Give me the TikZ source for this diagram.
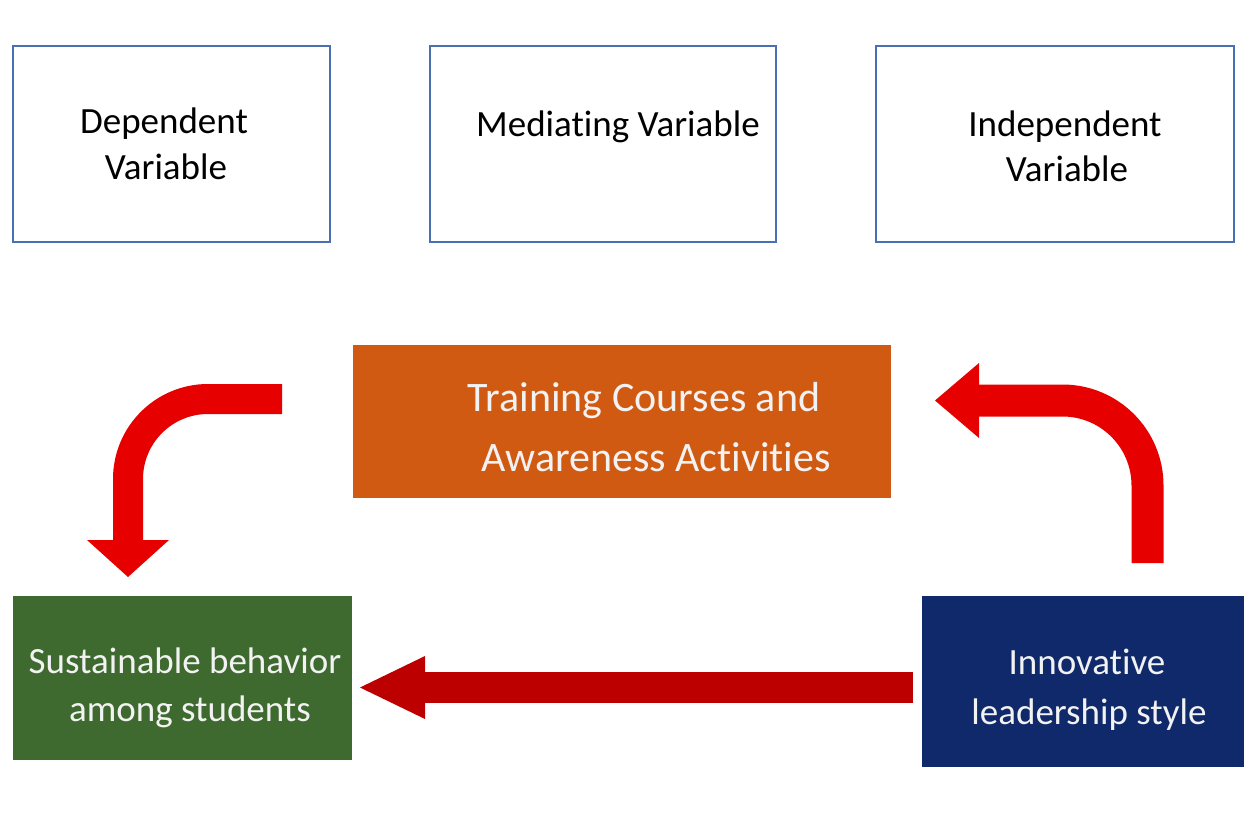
\documentclass[tikz,border=0pt]{standalone}
\usepackage{fontspec}
\setmainfont{Carlito}[RawFeature={-liga;-clig;-calt;-dlig}]
\definecolor{boxblue}{HTML}{4A6FB5}
\definecolor{medorange}{HTML}{D05A12}
\definecolor{depgreen}{HTML}{3F6A2F}
\definecolor{indnavy}{HTML}{10296A}
\definecolor{brightred}{HTML}{E60000}
\definecolor{darkred}{HTML}{BC0000}
\definecolor{lighttext}{HTML}{F2F2F2}
\begin{document}
\begin{tikzpicture}[x=1pt,y=-1pt,
  hdrbox/.style={draw=boxblue, line width=1.2pt, fill=white, rectangle,
    inner sep=0pt, outer sep=0pt, minimum height=196pt},
  fillbox/.style={rectangle, draw=none, inner sep=0pt, outer sep=0pt},
  dark/.style={anchor=base, text=black, inner sep=0pt,
    font=\fontsize{37}{45}\selectfont},
  light/.style={anchor=base, text=lighttext, inner sep=0pt,
    font=\fontsize{37}{45}\selectfont},
  lightbig/.style={anchor=base, text=lighttext, inner sep=0pt,
    font=\fontsize{42}{50}\selectfont},
  bendarrow/.style={draw=brightred, line width=30pt},
]
% canvas
\path[fill=white] (0,0) rectangle (1244,821);
\useasboundingbox (0,0) rectangle (1244,821);

% header boxes
\node[hdrbox, minimum width=317pt] (depbox) at (171.5,144) {};
\node[hdrbox, minimum width=346pt] (medbox) at (603,144) {};
\node[hdrbox, minimum width=358pt] (indbox) at (1055,144) {};
\node[dark] (dep1) at (164,134) {Dependent};
\node[dark] (dep2) at (166,179) {Variable};
\node[dark] (med1) at (618,137) {Mediating Variable};
\node[dark] (ind1) at (1065,137) {Independent};
\node[dark] (ind2) at (1067,182) {Variable};

% variable boxes
\node[fillbox, fill=medorange, minimum width=538pt, minimum height=153pt] (train) at (622,421.5) {};
\node[fillbox, fill=depgreen, minimum width=339pt, minimum height=164pt] (sust) at (182.5,678) {};
\node[fillbox, fill=indnavy, minimum width=322pt, minimum height=171pt] (innov) at (1083,681.5) {};
\node[lightbig] (train1) at (644,411) {Training Courses and};
\node[lightbig] (train2) at (656,471) {Awareness Activities};
\node[light] (sust1) at (185,673) {Sustainable behavior};
\node[light] (sust2) at (190,721) {among students};
\node[light] (innov1) at (1087,674) {Innovative};
\node[light] (innov2) at (1089,724) {leadership style};

% bent arrow: mediating -> dependent
\coordinate (la0) at (282,399);
\coordinate (la1) at (128,399);
\coordinate (la2) at (128,540);
\draw[bendarrow, rounded corners=80pt] (la0) -- (la1) -- (la2);
\fill[brightred] (87,540) -- (169,540) -- (128,577) -- cycle;

% bent arrow: independent -> mediating
\coordinate (ra0) at (1147.5,563);
\coordinate (ra1) at (1147.5,400.5);
\coordinate (ra2) at (979,400.5);
\draw[bendarrow, line width=32pt, rounded corners=85pt] (ra0) -- (ra1) -- (ra2);
\fill[brightred] (979,363) -- (979,438) -- (935,400.5) -- cycle;

% direct arrow: independent -> dependent
\coordinate (ba0) at (913,687.5);
\coordinate (ba1) at (424,687.5);
\draw[draw=darkred, line width=31pt] (ba0) -- (ba1);
\fill[darkred] (425,656) -- (425,719) -- (360,687.5) -- cycle;
\end{tikzpicture}
\end{document}
